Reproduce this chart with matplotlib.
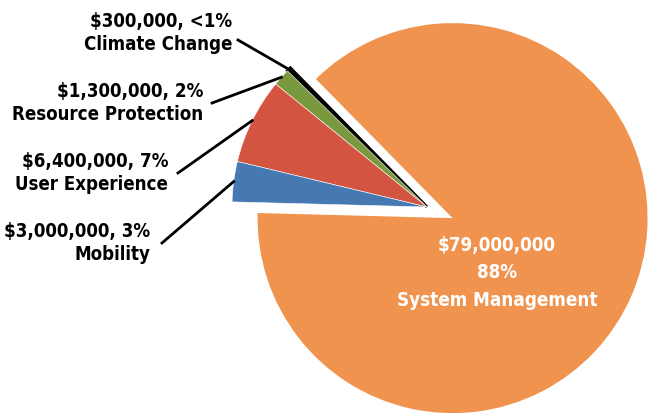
import numpy as np
import matplotlib.pyplot as plt

plt.rcParams['font.family'] = ['DejaVu Sans']

# budget by category, in dollars
labels = ['Climate Change', 'Resource Protection', 'User Experience', 'Mobility', 'System Management']
amounts = [300000, 1300000, 6400000, 3000000, 79000000]
pct_text = ['<1%', '2%', '7%', '3%', '88%']
colors = ['#000000', '#79993E', '#D35440', '#4678B1', '#F0934F']

R = 195.0  # pie radius in pixels
cx, cy = 427, 207  # pie centre in pixels


def px(x, y):
    return (x - cx) / R, (cy - y) / R


fig = plt.figure(figsize=(6.5, 4.13), dpi=100)
ax = fig.add_axes([0, 0, 1, 1])

wedges, _ = ax.pie(amounts, colors=colors, startangle=134.5, counterclock=True,
                   explode=[0, 0, 0, 0, 0.143], radius=1.0,
                   wedgeprops=dict(edgecolor='white', linewidth=0.4))
wedges[0].set_edgecolor('black')
wedges[0].set_linewidth(2.2)
wedges[4].set_linewidth(0)

# label layout: right edge, block centre, leader start (pixels)
text_pos = [(232, 33), (203, 103), (168, 173), (150, 243)]
line_start = [(238, 40), (212, 103), (178, 173), (162, 243)]

for i in range(4):
    amt = '${:,.0f}, {}'.format(amounts[i], pct_text[i])
    tx, ty = px(*text_pos[i])
    ax.text(tx, ty, amt + '\n' + labels[i], ha='right', va='center', multialignment='right',
            fontsize=13.4, fontweight='bold', fontstretch='condensed', linespacing=1.3,
            color='black')
    w = wedges[i]
    mid = np.deg2rad((w.theta1 + w.theta2) / 2)
    ex, ey = np.cos(mid), np.sin(mid)
    sx, sy = px(*line_start[i])
    ax.plot([sx, ex], [sy, ey], color='black', linewidth=2)

ox, oy = px(497, 273)
ax.text(ox, oy, '${:,.0f}\n{}\n{}'.format(amounts[4], pct_text[4], labels[4]),
        ha='center', va='center', multialignment='center', fontsize=13.5,
        fontweight='bold', fontstretch='condensed', linespacing=1.55, color='white')

ax.set_xlim(-cx / R, (650 - cx) / R)
ax.set_ylim(-(413 - cy) / R, cy / R)
ax.set_aspect('equal')
ax.axis('off')

fig.savefig('out.png', dpi=100)
